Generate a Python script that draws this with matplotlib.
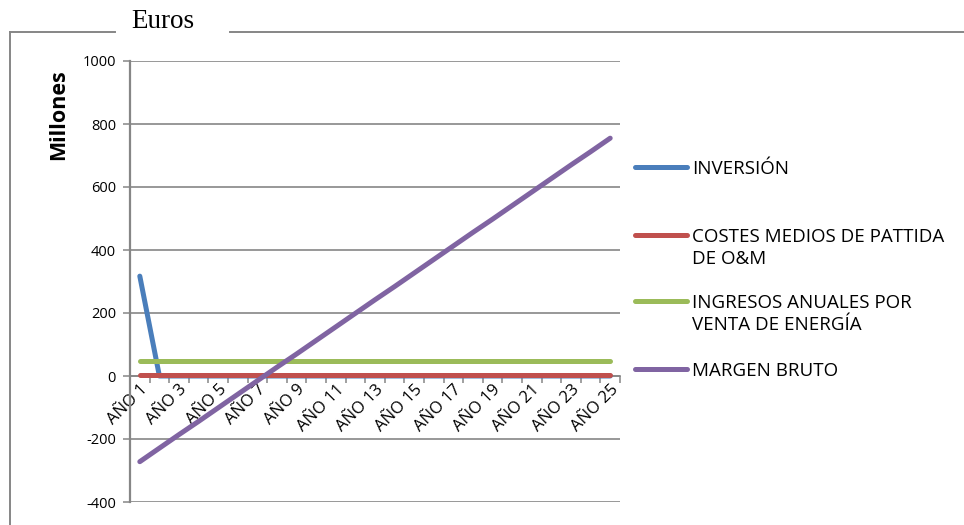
import numpy as np
import matplotlib
matplotlib.use("Agg")
import matplotlib.pyplot as plt
from matplotlib.lines import Line2D

plt.rcParams["axes.unicode_minus"] = False

# Datos del estudio económico (millones de euros por año)
anios = ["AÑO 1", "AÑO 2", "AÑO 3", "AÑO 4", "AÑO 5", "AÑO 6", "AÑO 7",
         "AÑO 8", "AÑO 9", "AÑO 10", "AÑO 11", "AÑO 12", "AÑO 13",
         "AÑO 14", "AÑO 15", "AÑO 16", "AÑO 17", "AÑO 18", "AÑO 19",
         "AÑO 20", "AÑO 21", "AÑO 22", "AÑO 23", "AÑO 24", "AÑO 25"]

inversion = [317, 0, 0, 0, 0, 0, 0, 0, 0, 0, 0, 0, 0,
             0, 0, 0, 0, 0, 0, 0, 0, 0, 0, 0, 0]
costes_om = [3, 3, 3, 3, 3, 3, 3, 3, 3, 3, 3, 3, 3,
             3, 3, 3, 3, 3, 3, 3, 3, 3, 3, 3, 3]
ingresos = [48, 48, 48, 48, 48, 48, 48, 48, 48, 48, 48, 48, 48,
            48, 48, 48, 48, 48, 48, 48, 48, 48, 48, 48, 48]
margen_bruto = [-272, -229, -186, -144, -101, -58, -15, 28, 70, 113, 156,
                199, 242, 284, 327, 370, 413, 456, 498, 541, 584, 627,
                670, 712, 755]

series = [
    ("INVERSIÓN", inversion, "#4a7ebb"),
    ("COSTES MEDIOS DE PATTIDA\nDE O&M", costes_om, "#c0504d"),
    ("INGRESOS ANUALES POR\nVENTA DE ENERGÍA", ingresos, "#9bbb59"),
    ("MARGEN BRUTO", margen_bruto, "#8064a2"),
]

gris = "#868686"
fuente = "Open Sans"
W, H = 964, 525

fig = plt.figure(figsize=(W / 100, H / 100), dpi=100)
ax = fig.add_axes([130 / W, 1 - 502 / H, 490 / W, 441 / H])

x = np.arange(len(anios))
for etiqueta, valores, color in series:
    ax.plot(x, valores, color=color, lw=3.6, solid_capstyle="round",
            solid_joinstyle="round", zorder=3)

ax.set_xlim(-0.5, len(anios) - 0.5)
ax.set_ylim(-400, 1000)
ax.set_yticks(np.arange(-400, 1001, 200))
ax.yaxis.grid(True, color=gris, lw=1.2)
ax.set_axisbelow(True)

for lado in ["top", "right"]:
    ax.spines[lado].set_visible(False)
ax.spines["left"].set_color(gris)
ax.spines["left"].set_linewidth(1.6)
ax.spines["bottom"].set_position(("data", 0))
ax.spines["bottom"].set_color(gris)
ax.spines["bottom"].set_linewidth(1.2)

# marcas en los límites de cada categoría, etiquetas en años impares
ax.set_xticks(np.arange(-0.5, len(anios)), labels=[])
ax.set_xticks(x[::2], labels=anios[::2], minor=True)
ax.tick_params(axis="x", which="major", length=5, width=1.1, color=gris,
               direction="out")
ax.tick_params(axis="x", which="minor", length=0, pad=4)
for t in ax.get_xticklabels(minor=True):
    t.set_rotation(45)
    t.set_ha("right")
    t.set_va("top")
    t.set_rotation_mode("anchor")
    t.set_fontsize(12)
    t.set_family(fuente)

ax.tick_params(axis="y", length=5, width=1.1, color=gris, pad=5,
               labelsize=10.5)
for t in ax.get_yticklabels():
    t.set_family(fuente)

fig.text(59 / W, 1 - 115 / H, "Millones", rotation=90, ha="center",
         va="center", fontsize=15.5, fontweight="bold", family=fuente)

# marco exterior del gráfico con el título interrumpiendo el borde
fig.add_artist(Line2D([10 / W, 10 / W], [1 - 32 / H, 0], color=gris, lw=1.4,
                      transform=fig.transFigure))
fig.add_artist(Line2D([10 / W, 115 / W], [1 - 32 / H, 1 - 32 / H], color=gris,
                      lw=1.4, transform=fig.transFigure))
fig.add_artist(Line2D([230 / W, 1], [1 - 32 / H, 1 - 32 / H], color=gris,
                      lw=1.4, transform=fig.transFigure))
fig.text(163 / W, 1 - 21 / H, "Euros", ha="center", va="center",
         fontsize=19.5, family="Liberation Serif")

# leyenda a la derecha
leyenda_y = [167, 235, 301, 369]
for (etiqueta, valores, color), yy in zip(series, leyenda_y):
    yf = 1 - yy / H
    fig.add_artist(Line2D([635 / W, 687 / W], [yf, yf], color=color, lw=3.6,
                          solid_capstyle="round", transform=fig.transFigure))
    fig.text(692 / W, 1 - (yy - 7) / H, etiqueta, ha="left", va="top",
             fontsize=13.5, family=fuente, linespacing=1.3)

fig.savefig("out.png", dpi=100)
